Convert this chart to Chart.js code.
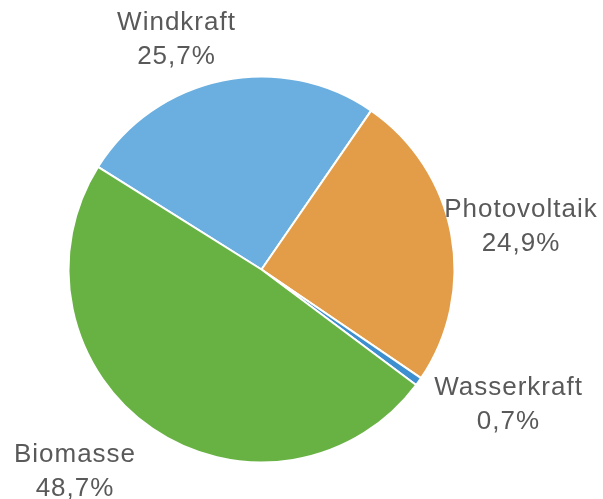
<!DOCTYPE html>
<html><head><meta charset="utf-8">
<script src="https://cdn.jsdelivr.net/npm/chart.js@4/dist/chart.umd.min.js"></script>
<style>html,body{margin:0;padding:0;background:#fff}#wrap{width:603px;height:499px}</style>
</head><body><div id="wrap"><canvas id="c" width="603" height="499"></canvas></div>
<script>
const categories = ["Windkraft", "Photovoltaik", "Wasserkraft", "Biomasse"];
const shares = [25.7, 24.9, 0.7, 48.7];
const colors = ["#6aafdf", "#e39d48", "#3d8fcf", "#68b244"];
// label baseline anchors relative to pie center (px)
const labelOffsets = [[-85.5, -239.5], [259, -52.5], [246.5, 125.5], [-187, 192.5]];

const labelPlugin = {
  id: 'outLabels',
  afterDatasetsDraw(chart) {
    const ctx = chart.ctx;
    const meta = chart.getDatasetMeta(0);
    ctx.save();
    ctx.fillStyle = '#595959';
    ctx.font = '26px "Liberation Sans", Arial, sans-serif';
    if ('letterSpacing' in ctx) ctx.letterSpacing = '1px';
    ctx.textAlign = 'center';
    ctx.textBaseline = 'alphabetic';
    meta.data.forEach((arc, i) => {
      const cx = arc.x + labelOffsets[i][0] + 0.5;
      const cy = arc.y + labelOffsets[i][1];
      ctx.fillText(categories[i], cx, cy);
      ctx.fillText(shares[i].toFixed(1).replace('.', ',') + '%', cx, cy + 33.5);
    });
    ctx.restore();
  }
};

new Chart(document.getElementById('c'), {
  type: 'pie',
  data: {
    labels: categories,
    datasets: [{
      data: shares,
      backgroundColor: colors,
      borderColor: '#ffffff',
      borderWidth: 2
    }]
  },
  options: {
    responsive: false,
    animation: false,
    rotation: -57.9,
    layout: { padding: { left: 67.5, right: 147.5, top: 75.5, bottom: 35.5 } },
    plugins: { legend: { display: false }, tooltip: { enabled: false } }
  },
  plugins: [labelPlugin]
});
</script>
</body></html>
